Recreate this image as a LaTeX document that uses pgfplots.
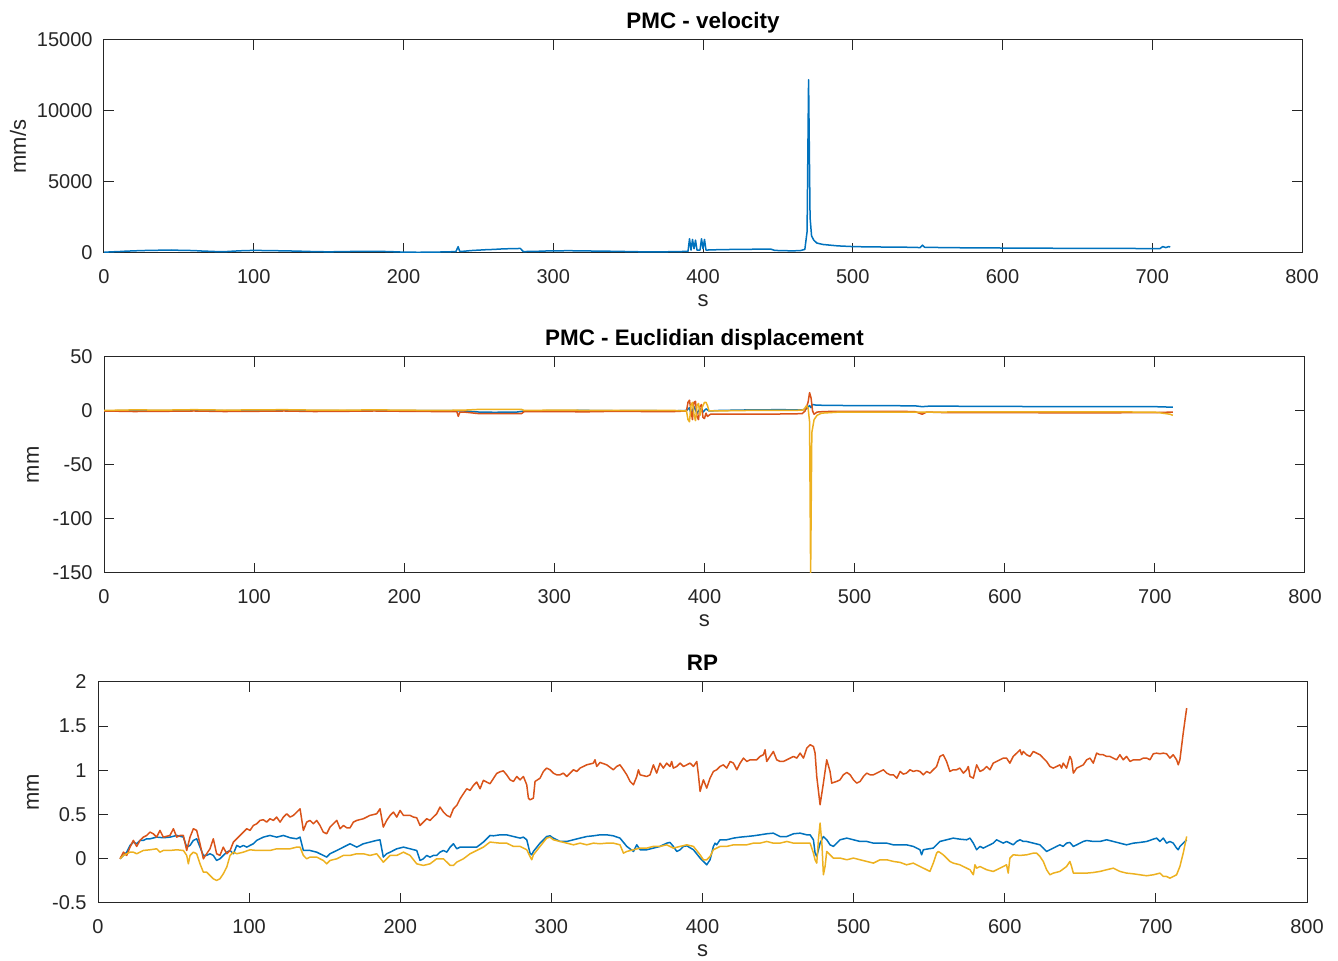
\documentclass[border=0pt]{standalone}
\usepackage{fontspec}
\setmainfont{Liberation Sans}
\usepackage{pgfplots}
\pgfplotsset{compat=1.18}
\definecolor{mblue}{RGB}{0,114,189}
\definecolor{morange}{RGB}{217,83,25}
\definecolor{myellow}{RGB}{237,177,32}
\definecolor{axgray}{gray}{0.15}
\pgfplotsset{
  every axis title/.style={at={([yshift=5.5pt]axis description cs:0.5,1)}, anchor=base, inner sep=0pt,
     font=\bfseries\fontsize{11.2}{13}\selectfont, text=black},
  mstyle/.style={
    scale only axis, anchor=south west,
    axis line style={axgray, line width=0.5pt},
    tick style={axgray, line width=0.5pt},
    major tick length=5pt,
    tick align=inside, tick pos=both,
    xmin=0, xmax=800, xtick={0,100,...,800},
    xticklabels={0,100,200,300,400,500,600,700,800},
    scaled ticks=false,
    tick label style={font=\fontsize{10}{12}\selectfont, text=axgray},
    xticklabel style={inner sep=0pt, anchor=north, yshift=-8pt},
    yticklabel style={inner sep=0pt, anchor=east, xshift=-5.5pt},
    label style={font=\fontsize{11}{13}\selectfont, text=axgray},
    xlabel={s},
    xlabel style={at={([yshift=-26.9pt]axis description cs:0.5,0)}, anchor=base, inner sep=0pt},
    every axis plot/.append style={line width=0.75pt, line join=round},
  }
}
\begin{document}
\begin{tikzpicture}
\useasboundingbox (0,0) rectangle (669pt,480.5pt);
% ---------------- top: velocity ----------------
\begin{axis}[mstyle,
  at={(52pt,354pt)}, width=599pt, height=106.5pt,
  ymin=0, ymax=15000, ytick={0,5000,10000,15000},
  yticklabels={0,5000,10000,15000},
  title={PMC - velocity},
  ylabel={mm/s},
  ylabel style={at={([xshift=-43pt]axis description cs:0,0.5)}, anchor=center, inner sep=0pt},
]
\addplot[mblue] coordinates {
(0,50) (5,80) (10,100) (15,130) (20,150) (25,170) (30,180) (35,190) (40,200) (45,210) (50,190) (55,180) (60,170) (65,140) (70,120) (75,100) (80,90) (85,120) (90,150) (95,170) (100,180) (105,175) (110,170) (115,160) (120,150) (125,140) (130,130) (135,110) (140,100) (145,90) (150,80) (155,90) (160,100) (165,105) (170,110) (175,115) (180,120) (185,110) (190,100) (195,80) (200,60) (205,55) (210,50) (215,55) (220,60) (225,70) (230,80) (235,100) (236.5,450) (237.5,120) (240,120) (245,170) (250,200) (255,230) (260,250) (265,280) (270,300) (275,310) (278,320) (280,100) (285,110) (290,120) (295,140) (300,150) (305,155) (310,160) (315,155) (320,150) (325,140) (330,130) (335,125) (340,120) (345,110) (350,100) (355,90) (360,80) (365,80) (370,80) (375,85) (380,90) (385,100) (390,120) (391,1000) (392,200) (393,950) (394,300) (395,900) (396,200) (398,200) (399,1000) (400,300) (401,950) (402,200) (405,220) (410,230) (420,250) (430,260) (440,270) (445,280) (448,180) (455,160) (460,150) (465,170) (468,250) (469.5,1500) (470.5,12200) (471.5,2500) (472.5,1200) (474,900) (476,700) (480,600) (485,550) (490,500) (500,450) (510,430) (520,420) (530,410) (540,400) (545,380) (546.5,550) (548,400) (555,390) (560,380) (570,370) (580,360) (590,355) (600,350) (610,345) (620,340) (630,335) (640,330) (650,325) (660,320) (670,320) (680,320) (690,315) (700,310) (705,300) (707,450) (709,380) (711,450) (712,420)
};
\end{axis}
% ---------------- middle: displacement ----------------
\begin{axis}[mstyle,
  at={(52pt,194pt)}, width=600.5pt, height=108pt,
  ymin=-150, ymax=50, ytick={-150,-100,-50,0,50},
  yticklabels={-150,-100,-50,0,50},
  title={PMC - Euclidian displacement},
  ylabel={mm},
  ylabel style={at={([xshift=-35.5pt]axis description cs:0,0.5)}, anchor=center, inner sep=0pt},
]
\addplot[mblue] coordinates {
(0,0) (20,0.5) (40,0.3) (60,0.8) (80,0.2) (100,0.5) (120,0.7) (140,0.3) (160,0.2) (180,0.5) (200,0.4) (220,0.3) (236,0.2) (240,0) (250,-1) (260,-1.2) (275,-1) (280,0) (300,0.3) (320,0.5) (340,0.2) (360,0.3) (380,0.1) (388,0.5) (390,3) (391,-3) (393,4) (395,-2) (397,2) (399,-1) (401,2) (403,0) (410,0.5) (430,1) (450,1.2) (465,1) (468,2) (470,5) (471,3) (472,6) (474,5.5) (480,5.2) (500,5) (540,4.8) (545,4) (550,4.5) (600,4.2) (650,4) (700,4) (712,3.5)
};
\addplot[morange] coordinates {
(0,0) (20,-0.5) (40,-0.3) (60,0) (80,-0.5) (100,-0.3) (120,0) (140,-0.5) (160,-0.3) (180,0) (200,-0.3) (220,-0.5) (235,-0.5) (236,-5) (237,-1) (240,-1) (250,-2.5) (265,-2.5) (278,-2.5) (280,-0.5) (300,-0.5) (320,-0.8) (340,-0.3) (360,-0.5) (380,-0.5) (388,0) (389,8) (390,10) (391,0) (392,-8) (393,8) (394,9) (395,-5) (396,-8) (397,4) (398,6) (399,-6) (400,-7) (401,-2) (402,-5) (404,-3) (410,-3) (430,-3) (450,-2.8) (465,-2.5) (467,0) (469,8) (470,17) (471,12) (472,0) (473,-3) (475,-1) (480,-0.5) (500,-0.3) (540,-0.5) (545,-3) (548,-1) (560,-1.5) (600,-1.5) (650,-1.8) (700,-1.5) (712,-1)
};
\addplot[myellow] coordinates {
(0,0.5) (20,1) (40,0.8) (60,1.2) (80,0.8) (100,1) (120,1.2) (140,0.8) (160,0.8) (180,1) (200,0.8) (220,0.5) (240,0.8) (250,1.5) (278,1.5) (280,0.5) (300,0.8) (340,0.5) (380,0.5) (388,0) (389,-8) (390,-10) (391,5) (392,8) (393,-3) (394,-9) (395,5) (396,7) (397,-4) (398,2) (399,5) (400,8) (401,8) (402,5) (403,0) (405,0) (430,0.5) (460,0.5) (466,1) (468,5) (469,3) (470,-10) (470.7,-150) (471.5,-20) (473,-8) (475,-4) (478,-2) (490,-1) (540,-1) (545,-1) (600,-0.8) (650,-0.8) (700,-1) (710,-3) (712,-4)
};
\end{axis}
% ---------------- bottom: RP ----------------
\begin{axis}[mstyle,
  at={(49pt,29pt)}, width=604.5pt, height=110.5pt,
  ymin=-0.5, ymax=2, ytick={-0.5,0,0.5,1,1.5,2},
  yticklabels={-0.5,0,0.5,1,1.5,2},
  title={RP},
  ylabel={mm},
  ylabel style={at={([xshift=-32.5pt]axis description cs:0,0.5)}, anchor=center, inner sep=0pt},
]
\addplot[mblue] coordinates {
(14.6,0) (16.8,0.038) (19.0,0.075) (21.2,0.151) (23.4,0.189) (25.6,0.170) (27.8,0.208) (30.0,0.208) (32.2,0.226) (34.4,0.226) (38.8,0.245) (43.2,0.238) (47.6,0.245) (52.1,0.264) (56.5,0.245) (58.7,0.132) (60.9,0.151) (63.1,0.208) (65.3,0.226) (67.5,0.132) (69.7,0.038) (71.9,0.038) (74.1,0.057) (76.3,0.038) (78.5,-0.019) (80.7,0.0) (82.9,0.038) (85.2,0.075) (87.4,0.094) (89.6,0.057) (91.8,0.151) (94.0,0.132) (96.2,0.151) (98.4,0.132) (100.6,0.151) (102.8,0.170) (105.0,0.208) (109.4,0.245) (113.8,0.264) (118.2,0.245) (122.7,0.264) (127.1,0.238) (131.5,0.226) (133.7,0.245) (135.9,0.094) (140.3,0.094) (144.7,0.075) (149.1,0.038) (151.3,0.019) (153.5,0.057) (158.0,0.094) (162.4,0.132) (166.8,0.170) (171.2,0.132) (175.6,0.170) (180.0,0.189) (184.4,0.208) (186.6,0.215) (188.8,0.019) (191.0,0.057) (193.3,0.075) (197.7,0.113) (202.1,0.132) (206.5,0.113) (210.9,0.094) (213.1,-0.019) (215.3,0.0) (217.5,0.038) (219.7,0.019) (221.9,0.038) (224.1,0.038) (226.3,0.075) (228.6,0.094) (230.8,0.075) (233.0,0.132) (235.2,0.170) (237.4,0.113) (239.6,0.132) (241.8,0.132) (246.2,0.132) (250.6,0.132) (255.0,0.189) (259.4,0.264)
(261.6,0.260) (266.0,0.271) (270.4,0.271) (274.9,0.252) (279.3,0.234) (281.5,0.245) (283.7,0.215) (285.9,0.064) (287.0,0.045) (288.1,0.083) (292.5,0.177) (296.9,0.252) (299.1,0.260) (301.3,0.234) (305.7,0.196) (310.2,0.196) (314.6,0.215) (319.0,0.234) (323.4,0.252) (327.8,0.260) (332.2,0.271) (336.6,0.271) (341.0,0.260) (345.4,0.234) (349.9,0.140) (354.3,0.083) (356.5,0.158) (358.7,0.102) (363.1,0.102) (367.5,0.121) (371.9,0.140) (376.3,0.177) (378.5,0.185) (380.7,0.140) (383.0,0.083) (385.2,0.102) (387.4,0.140) (389.6,0.147) (394.0,0.102) (398.4,0.008) (400.6,-0.030) (402.8,-0.068) (405.0,-0.011) (407.2,0.140) (408.3,0.177) (409.4,0.158) (411.6,0.215) (416.0,0.215) (420.5,0.234) (424.9,0.245) (429.3,0.252) (433.7,0.260) (438.1,0.271) (442.5,0.283) (446.9,0.290) (451.3,0.252) (455.8,0.252) (460.2,0.283) (464.6,0.290) (469.0,0.271) (471.2,0.271) (473.4,0.215) (474.5,0.064) (475.6,0.026) (477.8,0.177) (480.0,0.252) (482.2,0.215) (484.4,0.158) (486.6,0.140) (488.8,0.177) (491.0,0.215) (495.5,0.234) (499.9,0.215) (504.3,0.196) (508.7,0.196) (513.1,0.177) (517.5,0.177) (521.9,0.177) (526.3,0.158) (530.8,0.158)
(535.0,0.158) (539.5,0.140) (541.7,0.121) (543.9,0.102) (545.0,0.045) (546.1,0.102) (548.3,0.109) (552.7,0.121) (554.9,0.158) (557.1,0.196) (561.5,0.215) (565.9,0.234) (570.3,0.222) (574.8,0.215) (577.0,0.234) (579.2,0.177) (581.4,0.102) (583.6,0.140) (585.8,0.121) (588.0,0.140) (590.2,0.158) (592.4,0.177) (594.6,0.215) (596.8,0.196) (599.0,0.177) (601.2,0.196) (603.4,0.177) (605.6,0.158) (607.9,0.196) (610.1,0.215) (612.3,0.196) (614.5,0.196) (618.9,0.177) (623.3,0.158) (625.5,0.121) (627.7,0.083) (629.9,0.102) (632.1,0.121) (634.3,0.140) (636.5,0.158) (638.7,0.140) (640.9,0.177) (643.1,0.185) (645.4,0.140) (647.6,0.158) (649.8,0.177) (652.0,0.196) (654.2,0.207) (658.6,0.196) (663.0,0.196) (667.4,0.215) (671.8,0.196) (676.2,0.177) (680.6,0.158) (685.1,0.177) (689.5,0.185) (693.9,0.196) (698.3,0.222) (700.5,0.234) (702.7,0.196) (704.9,0.234) (707.1,0.177) (709.3,0.196) (711.5,0.177) (713.7,0.121) (714.8,0.102) (715.9,0.140) (718.1,0.177) (720.4,0.215)
};
\addplot[morange] coordinates {
(14.6,0) (16.8,0.075) (19.0,0.038) (21.2,0.132) (23.4,0.208) (25.6,0.140) (27.8,0.208) (30.0,0.245) (32.2,0.264) (34.4,0.302) (36.6,0.283) (38.8,0.245) (41.0,0.321) (43.2,0.245) (47.6,0.264) (49.9,0.340) (52.1,0.245) (54.3,0.264) (56.5,0.264) (58.7,0.094) (60.9,0.245) (63.1,0.340) (65.3,0.321) (67.5,0.170) (69.7,0.0) (71.9,0.057) (74.1,0.113) (76.3,0.226) (78.5,0.057) (80.7,0.038) (82.9,0.132) (85.2,0.057) (87.4,0.094) (89.6,0.189) (91.8,0.226) (94.0,0.264) (96.2,0.302) (98.4,0.340) (100.6,0.321) (102.8,0.377) (105.0,0.396) (107.2,0.434) (109.4,0.442) (111.6,0.415) (113.8,0.453) (116.0,0.434) (118.2,0.472) (120.5,0.415) (122.7,0.472) (124.9,0.509) (127.1,0.472) (129.3,0.491) (131.5,0.528) (133.7,0.566) (135.9,0.321) (138.1,0.415) (140.3,0.434) (142.5,0.396) (144.7,0.434) (146.9,0.377) (149.1,0.302) (151.3,0.283) (153.5,0.358) (155.7,0.396) (158.0,0.434) (160.2,0.340) (162.4,0.377) (164.6,0.351) (166.8,0.351) (169.0,0.415) (171.2,0.434) (175.6,0.453) (180.0,0.491) (184.4,0.509) (186.6,0.566) (188.8,0.358) (191.0,0.434) (193.3,0.491) (195.5,0.528) (197.7,0.472) (199.9,0.547) (202.1,0.491) (204.3,0.491) (206.5,0.491) (208.7,0.472) (210.9,0.464) (213.1,0.377) (215.3,0.415) (217.5,0.453) (219.7,0.434) (221.9,0.472) (224.1,0.509) (226.3,0.585) (228.6,0.528) (230.8,0.491) (233.0,0.472) (235.2,0.566) (237.4,0.604) (239.6,0.679) (241.8,0.736) (244.0,0.792) (246.2,0.774) (248.4,0.830) (250.6,0.868) (252.8,0.792) (255.0,0.887) (257.2,0.868) (259.4,0.849)
(263.8,0.965) (266.0,0.984) (268.2,0.995) (270.4,0.950) (272.7,0.893) (274.9,0.875) (277.1,0.931) (279.3,0.893) (281.5,0.931) (283.7,0.837) (284.8,0.686) (285.9,0.667) (288.1,0.686) (289.2,0.875) (292.5,0.912) (294.7,0.988) (296.9,1.026) (299.1,1.007) (301.3,0.969) (303.5,0.950) (305.7,0.950) (307.9,0.969) (310.2,0.931) (312.4,0.969) (314.6,1.007) (316.8,0.988) (319.0,1.026) (323.4,1.063) (327.8,1.082) (328.9,1.120) (330.0,1.044) (332.2,1.090) (336.6,1.063) (341.0,1.007) (343.2,1.044) (345.4,1.063) (347.7,1.007) (349.9,0.950) (352.1,0.875) (354.3,0.837) (356.5,0.931) (357.6,1.007) (358.7,0.950) (363.1,0.931) (365.3,0.950) (367.5,1.063) (369.7,0.969) (371.9,1.082) (374.1,1.026) (376.3,1.082) (378.5,1.044) (379.6,1.101) (380.7,1.026) (383.0,1.044) (385.2,1.082) (387.4,1.044) (389.6,1.063) (391.8,1.082) (394.0,1.044) (396.2,1.101) (397.3,0.950) (398.4,0.762) (400.6,0.894) (402.8,0.799) (405.0,0.913) (407.2,0.988) (409.4,1.007) (411.6,1.044) (413.8,1.063) (416.0,1.026) (418.3,1.101) (420.5,1.082) (422.7,1.007) (424.9,1.082) (427.1,1.139) (429.3,1.101) (431.5,1.120) (433.7,1.120) (435.9,1.120) (438.1,1.158) (440.3,1.177) (441.4,1.233) (442.5,1.101) (444.7,1.158) (446.9,1.214) (449.1,1.120) (451.3,1.101) (453.5,1.101) (455.8,1.120) (458.0,1.139) (460.2,1.158) (462.4,1.139) (464.6,1.195) (466.8,1.139) (469.0,1.252) (471.2,1.290) (473.4,1.271) (474.5,1.195) (475.6,0.931) (477.8,0.611) (480.0,0.856) (482.2,1.120) (484.4,0.988) (485.5,0.856) (488.8,0.875) (491.0,0.893) (493.2,0.950) (495.5,0.977) (497.7,0.950) (499.9,0.893) (502.1,0.856) (504.3,0.875) (506.5,0.931) (508.7,0.969) (510.9,0.950) (513.1,0.950) (515.3,0.969) (517.5,0.988) (519.7,1.007) (521.9,0.969) (524.1,0.950) (526.3,0.950) (528.6,0.912) (530.8,0.988)
(532.8,0.958) (535.0,0.969) (537.3,1.007) (539.5,0.988) (541.7,0.999) (543.9,0.988) (546.1,0.950) (548.3,0.988) (550.5,0.969) (552.7,1.007) (554.9,1.044) (557.1,1.158) (559.3,1.177) (561.5,1.101) (563.7,0.988) (565.9,1.007) (568.1,1.007) (570.3,1.026) (572.6,0.969) (574.8,1.007) (575.9,1.044) (577.0,0.931) (579.2,0.912) (581.4,1.063) (583.6,0.988) (585.8,1.007) (588.0,1.044) (590.2,1.007) (592.4,1.082) (594.6,1.101) (596.8,1.120) (599.0,1.139) (601.2,1.139) (603.4,1.082) (605.6,1.158) (607.9,1.195) (610.1,1.233) (611.2,1.177) (612.3,1.214) (614.5,1.177) (616.7,1.158) (618.9,1.214) (621.1,1.195) (623.3,1.177) (625.5,1.139) (627.7,1.101) (629.9,1.044) (632.1,1.026) (634.3,1.044) (636.5,1.063) (637.6,1.026) (638.7,1.082) (640.9,1.026) (643.1,1.158) (644.2,1.120) (645.4,0.969) (647.6,1.026) (649.8,1.044) (652.0,1.063) (654.2,1.120) (656.4,1.139) (658.6,1.082) (660.8,1.195) (663.0,1.177) (665.2,1.177) (667.4,1.158) (669.6,1.158) (671.8,1.139) (674.0,1.120) (676.2,1.177) (678.4,1.120) (680.6,1.158) (682.9,1.101) (685.1,1.120) (687.3,1.120) (689.5,1.120) (691.7,1.139) (693.9,1.139) (696.1,1.120) (698.3,1.188) (700.5,1.195) (702.7,1.188) (704.9,1.195) (707.1,1.188) (709.3,1.139) (711.5,1.177) (713.7,1.120) (714.8,1.063) (715.9,1.120) (717.0,1.271) (718.1,1.422) (719.3,1.573) (720.4,1.705)
};
\addplot[myellow] coordinates {
(14.6,0) (16.8,0.038) (19.0,0.057) (21.2,0.075) (23.4,0.075) (25.6,0.057) (30.0,0.094) (34.4,0.102) (38.8,0.113) (41.0,0.075) (43.2,0.094) (47.6,0.094) (52.1,0.102) (56.5,0.094) (58.7,0.038) (59.8,-0.057) (60.9,0.038) (63.1,0.075) (65.3,0.057) (67.5,-0.057) (69.7,-0.151) (71.9,-0.151) (74.1,-0.189) (76.3,-0.226) (78.5,-0.245) (80.7,-0.226) (82.9,-0.170) (85.2,-0.094) (87.4,0.038) (89.6,0.075) (91.8,0.057) (96.2,0.075) (100.6,0.102) (105.0,0.094) (109.4,0.094) (113.8,0.094) (118.2,0.113) (122.7,0.113) (127.1,0.113) (131.5,0.132) (133.7,0.132) (135.9,0.038) (138.1,0.0) (140.3,0.019) (144.7,0.019) (149.1,-0.019) (151.3,-0.057) (153.5,-0.019) (158.0,0.0) (162.4,0.038) (166.8,0.038) (171.2,0.057) (175.6,0.057) (180.0,0.038) (184.4,0.057) (188.8,-0.038) (191.0,0.0) (193.3,0.038) (197.7,0.038) (202.1,0.075) (206.5,0.038) (210.9,-0.057) (215.3,-0.075) (219.7,-0.057) (224.1,0.0) (228.6,0.0) (233.0,-0.075) (235.2,-0.075) (237.4,-0.038) (241.8,0.0) (246.2,0.057) (250.6,0.094) (255.0,0.132) (259.4,0.189)
(261.6,0.185) (266.0,0.177) (270.4,0.177) (274.9,0.140) (279.3,0.140) (281.5,0.121) (283.7,0.102) (285.9,0.026) (287.0,-0.011) (288.1,0.045) (292.5,0.140) (296.9,0.234) (299.1,0.245) (301.3,0.215) (305.7,0.196) (310.2,0.177) (314.6,0.158) (319.0,0.177) (323.4,0.158) (327.8,0.177) (332.2,0.170) (336.6,0.177) (341.0,0.177) (345.4,0.158) (347.7,0.064) (349.9,0.083) (354.3,0.102) (358.7,0.121) (363.1,0.121) (367.5,0.140) (371.9,0.140) (376.3,0.158) (380.7,0.121) (385.2,0.140) (389.6,0.158) (394.0,0.140) (398.4,0.045) (400.6,-0.011) (402.8,-0.011) (405.0,0.026) (407.2,0.102) (411.6,0.140) (416.0,0.140) (420.5,0.158) (424.9,0.158) (429.3,0.158) (433.7,0.177) (438.1,0.177) (442.5,0.196) (446.9,0.177) (451.3,0.177) (455.8,0.196) (460.2,0.177) (464.6,0.177) (469.0,0.177) (471.2,0.177) (473.4,0.064) (474.5,-0.011) (475.6,-0.049) (476.7,0.215) (477.8,0.404) (479.0,0.177) (480.0,-0.181) (481.1,-0.087) (482.2,0.083) (484.4,0.045) (486.6,0.008) (491.0,0.008) (495.5,-0.011) (499.9,0.008) (504.3,-0.011) (508.7,-0.030) (513.1,-0.049) (517.5,-0.011) (521.9,-0.011) (526.3,-0.030) (530.8,-0.041)
(535.0,-0.068) (539.5,-0.049) (543.9,-0.087) (548.3,-0.124) (550.5,-0.143) (552.7,-0.049) (554.9,0.064) (556.0,0.083) (557.1,0.072) (559.3,0.045) (561.5,0.008) (563.7,-0.030) (565.9,-0.049) (570.3,-0.068) (574.8,-0.106) (577.0,-0.124) (579.2,-0.181) (580.3,-0.068) (581.4,-0.106) (583.6,-0.087) (588.0,-0.124) (592.4,-0.143) (596.8,-0.106) (601.2,-0.068) (602.3,-0.162) (603.4,0.008) (605.6,0.045) (610.1,0.038) (614.5,0.045) (618.9,0.064) (621.1,0.064) (623.3,0.026) (625.5,-0.030) (627.7,-0.124) (629.9,-0.181) (632.1,-0.162) (636.5,-0.143) (640.9,-0.087) (643.1,-0.030) (644.2,-0.087) (645.4,-0.162) (647.6,-0.162) (654.2,-0.162) (658.6,-0.155) (663.0,-0.143) (667.4,-0.124) (671.8,-0.106) (676.2,-0.143) (680.6,-0.162) (685.1,-0.170) (689.5,-0.181) (693.9,-0.192) (698.3,-0.181) (702.7,-0.162) (704.9,-0.200) (707.1,-0.200) (709.3,-0.219) (711.5,-0.200) (713.7,-0.181) (715.9,-0.087) (718.1,0.064) (720.4,0.253)
};
\end{axis}
\end{tikzpicture}
\end{document}
